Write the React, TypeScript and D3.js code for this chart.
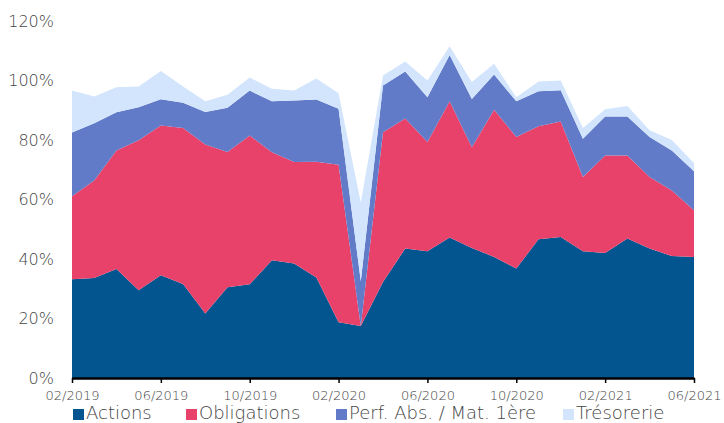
import React, { useRef, useEffect } from "react";
import * as d3 from "d3";

const months = [
  "02/2019", "03/2019", "04/2019", "05/2019", "06/2019", "07/2019", "08/2019", "09/2019",
  "10/2019", "11/2019", "12/2019", "01/2020", "02/2020", "03/2020", "04/2020", "05/2020",
  "06/2020", "07/2020", "08/2020", "09/2020", "10/2020", "11/2020", "12/2020", "01/2021",
  "02/2021", "03/2021", "04/2021", "05/2021", "06/2021",
];
const actions = [33.2, 33.6, 36.6, 29.5, 34.5, 31.6, 21.7, 30.5, 31.5, 39.6, 38.5, 33.8, 18.7, 17.5, 32.3, 43.5, 42.6, 47.2, 43.7, 40.7, 36.8, 46.6, 47.4, 42.6, 42.0, 46.9, 43.5, 41.0, 40.7];
const obligations = [27.9, 32.8, 39.9, 50.4, 50.4, 52.4, 56.8, 45.5, 50.0, 36.3, 34.1, 38.9, 53.0, 0.0, 50.3, 43.7, 36.7, 45.8, 33.9, 49.5, 44.2, 38.0, 38.8, 25.0, 32.8, 27.9, 24.1, 22.0, 15.7];
const perfAbs = [21.4, 19.2, 12.8, 11.1, 8.8, 8.5, 10.9, 14.8, 15.1, 17.1, 20.7, 20.9, 18.8, 15.0, 15.7, 15.8, 15.1, 15.6, 16.2, 11.8, 12.0, 11.8, 10.5, 12.8, 13.1, 13.1, 13.4, 13.5, 13.1];
const tresorerie = [14.1, 9.0, 8.4, 7.0, 9.5, 5.5, 3.6, 4.4, 4.4, 4.2, 3.3, 7.1, 5.2, 26.5, 3.4, 3.4, 5.6, 2.9, 5.7, 3.6, 1.4, 3.3, 3.3, 3.6, 2.4, 3.5, 2.3, 3.5, 2.8];
const seriesNames = ["Actions", "Obligations", "Perf. Abs. / Mat. 1ère", "Trésorerie"];
const colors = ["#02558f", "#e8416a", "#617bc8", "#d3e5fc"];
const yTicks = [0, 20, 40, 60, 80, 100, 120];

export default function App() {
  const svgRef = useRef<SVGSVGElement>(null);

  useEffect(() => {
    const width = 724;
    const height = 423;
    const margin = { top: 21, right: 30, bottom: 45, left: 72 };
    const svg = d3.select(svgRef.current);
    svg.selectAll("*").remove();

    const keys = ["a", "o", "p", "t"];
    const rows = months.map((m, i) => ({
      i, a: actions[i], o: obligations[i], p: perfAbs[i], t: tresorerie[i],
    }));
    const stacked = d3.stack<any>().keys(keys)(rows);

    const x = d3.scaleLinear()
      .domain([0, months.length - 1])
      .range([margin.left, width - margin.right]);
    const y = d3.scaleLinear()
      .domain([0, 120])
      .range([height - margin.bottom, margin.top]);

    const area = d3.area<any>()
      .x(d => x(d.data.i))
      .y0(d => y(d[0]))
      .y1(d => y(d[1]));

    svg.append("g")
      .selectAll("path")
      .data(stacked)
      .join("path")
      .attr("fill", (d, i) => colors[i])
      .attr("d", area);

    const font = "'DejaVu Sans', sans-serif";
    svg.append("g")
      .selectAll("text")
      .data(yTicks)
      .join("text")
      .attr("x", 54)
      .attr("y", d => y(d))
      .attr("dy", "0.35em")
      .attr("text-anchor", "end")
      .attr("font-family", font)
      .attr("font-size", 16)
      .attr("font-weight", 300)
      .attr("fill", "#444")
      .text(d => d + "%");

    const xAxis = d3.axisBottom(x)
      .tickValues(d3.range(0, months.length, 4))
      .tickFormat(i => months[i as number])
      .tickSize(5)
      .tickSizeOuter(0);
    const gx = svg.append("g")
      .attr("transform", `translate(0,${height - margin.bottom})`)
      .call(xAxis);
    gx.select(".domain").attr("stroke", "#000").attr("stroke-width", 2.5);
    gx.selectAll(".tick line").attr("stroke", "#000").attr("stroke-width", 1.5);
    gx.selectAll(".tick text")
      .attr("font-family", font)
      .attr("font-size", 13)
      .attr("font-weight", 300)
      .attr("fill", "#444")
      .attr("y", 13);

    const legendX = [73, 186, 336, 563];
    const lg = svg.append("g")
      .selectAll("g")
      .data(seriesNames)
      .join("g")
      .attr("transform", (d, i) => `translate(${legendX[i]},413)`);
    lg.append("rect")
      .attr("x", 0).attr("y", -4).attr("width", 11).attr("height", 11)
      .attr("fill", (d, i) => colors[i]);
    lg.append("text")
      .attr("x", 13)
      .attr("dy", "0.35em")
      .attr("font-family", font)
      .attr("font-size", 18)
      .attr("font-weight", 300)
      .attr("fill", "#444")
      .text(d => d);
  }, []);

  return (
    <svg ref={svgRef} width={724} height={423}
      style={{ position: "absolute", left: 0, top: 0, background: "#fff" }} />
  );
}
